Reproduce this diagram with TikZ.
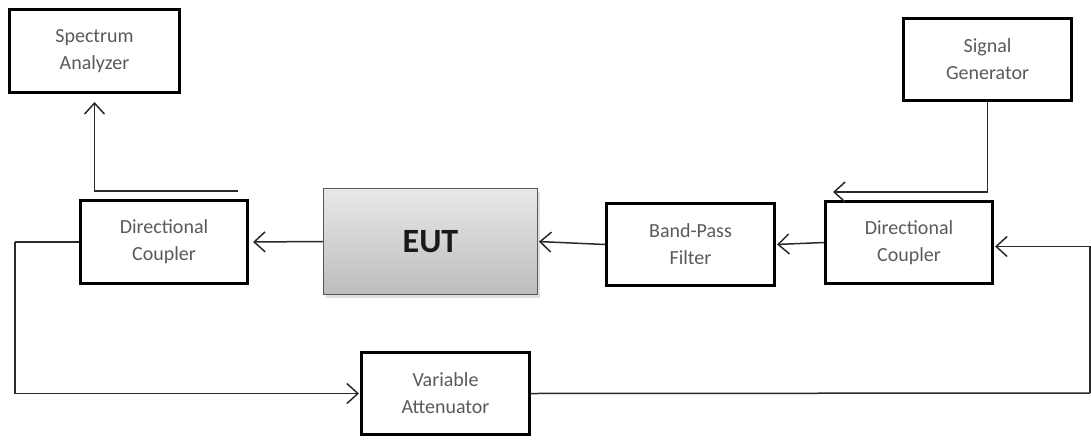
\documentclass[tikz,border=0pt]{standalone}
\usepackage{fontspec}
\setmainfont{Carlito}
\usetikzlibrary{arrows.meta,shadows}
\definecolor{txtgray}{HTML}{5A5A5A}
\definecolor{linecol}{HTML}{2A2A2A}
\tikzset{
  blk/.style={draw=black, line width=3pt, fill=white, inner sep=0pt,
    minimum width=168pt, minimum height=82pt, align=center,
    text=txtgray, font=\fontsize{20}{27}\selectfont},
  eutbox/.style={draw=black!65, line width=1pt, inner sep=0pt,
    minimum width=214pt, minimum height=106pt,
    top color=black!9, bottom color=black!26,
    drop shadow={opacity=0.25, shadow xshift=2pt, shadow yshift=-3pt},
    font=\fontsize{34}{40}\selectfont\bfseries, text=black!90},
  conn/.style={draw=linecol, line width=1.5pt},
  arr/.style={conn, -{Straight Barb[length=11pt,width=20pt,line width=1.5pt]}}
}
\begin{document}
\begin{tikzpicture}[x=1pt,y=-1pt]
\useasboundingbox (0,0) rectangle (1091,439);
\node[blk, minimum width=170pt, minimum height=83pt] (sa) at (94.5,51) {Spectrum\\Analyzer};
\node[blk, minimum width=167pt, minimum height=83pt] (lc) at (164,242) {Directional\\Coupler};
\node[eutbox] (eut) at (430.5,241.5) {EUT};
\node[blk] (bpf) at (690.5,244.5) {Band-Pass\\Filter};
\node[blk, minimum width=167pt] (rc) at (909,242.5) {Directional\\Coupler};
\node[blk] (sg) at (987.5,59.5) {Signal\\Generator};
\node[blk] (va) at (445.5,393.5) {Variable\\Attenuator};
\coordinate (lctap) at (238,191);
\coordinate (rctap) at (833,192);
\coordinate (leftrail) at (15,242);
\coordinate (rightrail) at (1090,393);
% connectors
\draw[arr, shorten >=8pt] (lctap) -| (sa.south);
\draw[arr] (sg.south) |- (rctap);
\draw[arr, shorten >=4pt] (eut.west) -- (lc.east);
\draw[arr, shorten >=1pt] (bpf.west) -- (eut.east);
\draw[arr, shorten >=1pt] (rc.west) -- (bpf.east);
\draw[conn] (lc.west) -- (leftrail);
\draw[arr, shorten >=1pt] (leftrail) |- (va.west);
\draw[conn] (va.east) -- (rightrail);
\draw[arr, shorten >=1pt] (rightrail) |- ([yshift=-4pt]rc.east);
\end{tikzpicture}
\end{document}
